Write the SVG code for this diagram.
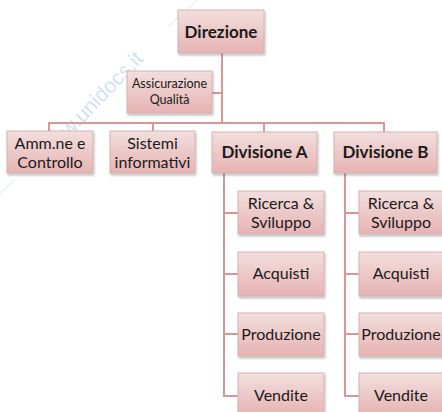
<svg xmlns="http://www.w3.org/2000/svg" width="442" height="412" viewBox="0 0 442 412">
<style>
.box{fill:url(#g);stroke:#d3b3b2;stroke-width:1;filter:url(#sh)}
.t{font-family:Lato,"Open Sans","Liberation Sans",sans-serif;font-size:16px;fill:#1a1a1a;text-anchor:middle}
.b{font-weight:bold;font-size:17px}
.s{font-size:12.5px}
.c{fill:none;stroke:#d99694;stroke-width:2}
.wm{font-family:"Liberation Sans",sans-serif;font-size:21px;fill:#d0e3f5}
</style>
<defs>
<linearGradient id="g" x1="0" y1="0" x2="0" y2="1">
<stop offset="0" stop-color="#f2dfde"/>
<stop offset="1" stop-color="#e6b3b2"/>
</linearGradient>
<filter id="sh" x="-10%" y="-10%" width="130%" height="140%">
<feDropShadow dx="1" dy="2" stdDeviation="1.2" flood-color="#000" flood-opacity="0.25"/>
</filter>
</defs>
<rect width="442" height="412" fill="#fff"/>
<g id="watermark">
<line x1="197" y1="0" x2="168" y2="27" stroke="#d6e6f6" stroke-width="1"/>
<line x1="15" y1="180" x2="0" y2="193" stroke="#d6e6f6" stroke-width="1"/>
<text class="wm" x="91" y="112" text-anchor="middle" transform="rotate(-46 91 105)">www.unidocs.it</text>
</g>
<g id="connectors">
<path class="c" d="M222,53 V123"/>
<path class="c" d="M212,93 H222"/>
<path class="c" d="M49,131 V123 H384 V132"/>
<path class="c" d="M153,123 V131"/>
<path class="c" d="M264,123 V132"/>
<path class="c" d="M224,173 V396 H238 M224,213 H238 M224,274 H238 M224,334 H238"/>
<path class="c" d="M345,173 V396 H359 M345,213 H359 M345,274 H359 M345,334 H359"/>
</g>
<g id="direzione"><rect class="box" x="178" y="10" width="86" height="43"/><text class="t b" x="221" y="38">Direzione</text></g>
<g id="assicurazione"><rect class="box" x="127" y="71" width="85" height="42"/><text class="t s" x="169.5" y="88">Assicurazione</text><text class="t s" x="169.5" y="104">Qualità</text></g>
<g id="amm"><rect class="box" x="7" y="131" width="86" height="42"/><text class="t" x="50" y="149">Amm.ne e</text><text class="t" x="50" y="168">Controllo</text></g>
<g id="sistemi"><rect class="box" x="110" y="131" width="85" height="42"/><text class="t" x="152.5" y="149">Sistemi</text><text class="t" x="152.5" y="168">informativi</text></g>
<g id="divA"><rect class="box" x="212" y="132" width="105" height="41"/><text class="t b" x="264.5" y="158">Divisione A</text></g>
<g id="divB"><rect class="box" x="334" y="132" width="103" height="41"/><text class="t b" x="385.5" y="158">Divisione B</text></g>
<g id="ricercaA"><rect class="box" x="238" y="191" width="86" height="43"/><text class="t" x="281" y="209">Ricerca &amp;</text><text class="t" x="281" y="228">Sviluppo</text></g>
<g id="acquistiA"><rect class="box" x="238" y="252" width="86" height="44"/><text class="t" x="281" y="279">Acquisti</text></g>
<g id="produzioneA"><rect class="box" x="238" y="313" width="86" height="43"/><text class="t" x="281" y="340">Produzione</text></g>
<g id="venditeA"><rect class="box" x="238" y="373" width="86" height="43"/><text class="t" x="281" y="401">Vendite</text></g>
<g id="ricercaB"><rect class="box" x="359" y="191" width="86" height="43"/><text class="t" x="401" y="209">Ricerca &amp;</text><text class="t" x="401" y="228">Sviluppo</text></g>
<g id="acquistiB"><rect class="box" x="359" y="252" width="86" height="44"/><text class="t" x="401" y="279">Acquisti</text></g>
<g id="produzioneB"><rect class="box" x="359" y="313" width="86" height="43"/><text class="t" x="401" y="340">Produzione</text></g>
<g id="venditeB"><rect class="box" x="359" y="373" width="86" height="43"/><text class="t" x="401" y="401">Vendite</text></g>
</svg>
